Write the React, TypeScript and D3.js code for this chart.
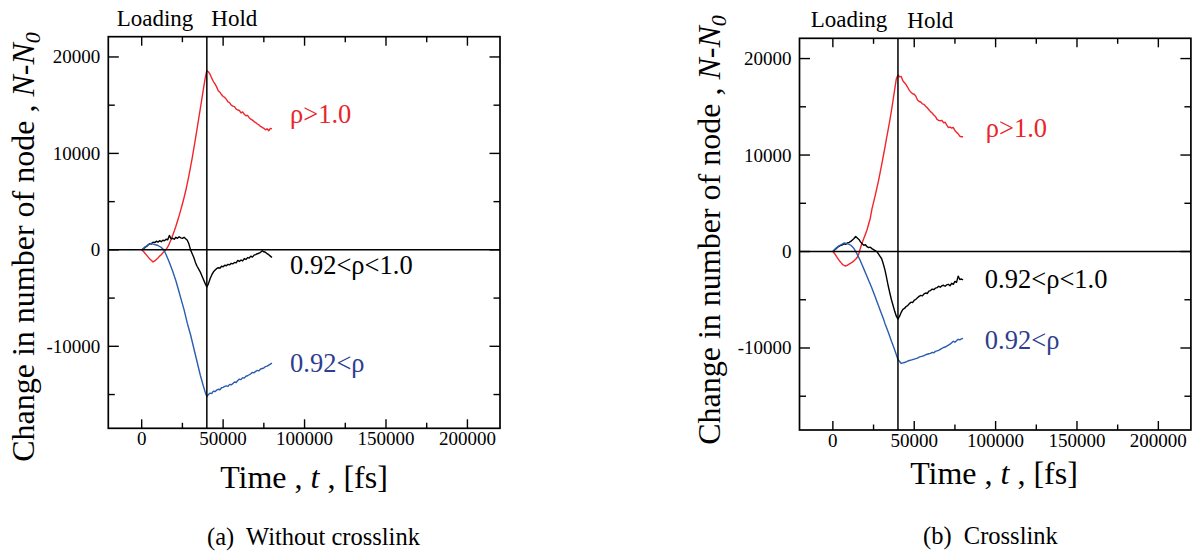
import React from 'react';
import * as d3 from 'd3';

// ---------- data ----------
const TIME_FS = [
  0, 1000, 2000, 3000, 4000, 5000, 6000, 7000, 8000, 9000,
  10000, 11000, 12000, 13000, 14000, 15000, 16000, 17000, 18000, 19000,
  20000, 21000, 22000, 23000, 24000, 25000, 26000, 27000, 28000, 29000,
  30000, 31000, 32000, 33000, 34000, 35000, 36000, 37000, 38000, 39000,
  40000, 41000, 42000, 43000, 44000, 45000, 46000, 47000, 48000, 49000,
  50000, 51000, 52000, 53000, 54000, 55000, 56000, 57000, 58000, 59000,
  60000, 61000, 62000, 63000, 64000, 65000, 66000, 67000, 68000, 69000,
  70000, 71000, 72000, 73000, 74000, 75000, 76000, 77000, 78000, 79000,
  80000,
];

// (a) Without crosslink
const A_RHO_GT_1 = [
  0, -150, -350, -550, -750, -950, -1100, -1250, -1150, -1000,
  -850, -650, -500, -300, -150, 50, 300, 650, 1050, 1500,
  1950, 2450, 3000, 3550, 4150, 4750, 5400, 6100, 6900, 7700,
  8600, 9500, 10500, 11500, 12550, 13600, 14650, 15700, 16800, 17800,
  18600, 18450, 18200, 17800, 17450, 17200, 16900, 16500, 16350, 16100,
  15900, 15800, 15600, 15350, 15250, 15000, 14900, 14850, 14600, 14500,
  14450, 14200, 14300, 14050, 13900, 13950, 13700, 13550, 13450, 13300,
  13200, 13050, 12950, 12800, 12700, 12600, 12450, 12550, 12350, 12600,
  12550,
];
const A_RHO_MID = [
  0, 100, 250, 350, 500, 650, 600, 800, 750, 900,
  800, 950, 850, 1000, 950, 1100, 1050, 1500, 1150, 1200,
  1100, 1300, 1200, 1350, 1250, 1200, 1300, 1150, 1000, 600,
  0, -400, -800, -1300, -1700, -2000, -2300, -2700, -3100, -3500,
  -3850, -3500, -3000, -2600, -2300, -2100, -1950, -1850, -1900, -1700,
  -1750, -1600, -1650, -1500, -1550, -1400, -1450, -1300, -1350, -1100,
  -1200, -1050, -1150, -900, -1000, -800, -850, -650, -750, -550,
  -500, -400, -350, -250, -100, -200, -250, -400, -500, -650,
  -800,
];
const A_RHO_LOW = [
  0, 150, 300, 400, 550, 600, 700, 600, 550, 500,
  450, 350, 250, 100, -150, -500, -900, -1300, -1750, -2200,
  -2700, -3200, -3800, -4400, -5000, -5600, -6200, -6900, -7600, -8200,
  -8800, -9500, -10200, -10900, -11600, -12300, -13000, -13600, -14200, -14750,
  -15200, -15000, -14850, -14900, -14650, -14700, -14550, -14450, -14500, -14300,
  -14250, -14150, -14100, -14150, -13950, -14000, -13850, -13700, -13750, -13550,
  -13400, -13450, -13250, -13300, -13100, -13050, -12950, -12850, -12700, -12750,
  -12600, -12500, -12550, -12350, -12300, -12250, -12100, -12050, -11950, -11850,
  -11750,
];

// (b) Crosslink
const B_RHO_GT_1 = [
  0, -200, -450, -700, -950, -1150, -1350, -1450, -1500, -1400,
  -1300, -1200, -1100, -950, -800, -600, -200, 400, 900, 1350,
  1800, 2250, 2850, 3450, 4400, 5100, 5800, 6550, 7300, 8150,
  9000, 9900, 10800, 11750, 12650, 13600, 14600, 15700, 16800, 17900,
  18300, 18100, 18150, 17700, 17500, 17300, 17000, 16700, 16500, 16350,
  16300, 16100, 15700, 15550, 15500, 15300, 15250, 15050, 14900, 14700,
  14500, 14350, 14150, 14000, 13700, 13600, 13550, 13600, 13350, 13400,
  13100, 12850, 12900, 12800, 12850, 12550, 12350, 12200, 11950, 11900,
  11900,
];
const B_RHO_MID = [
  0, 150, 300, 450, 550, 650, 700, 800, 750, 900,
  950, 1050, 1200, 1350, 1550, 1400, 1250, 1000, 800, 650,
  700, 500, 400, 450, 300, 200, 100, 0, -250, -500,
  -750, -1300, -1900, -2700, -3550, -4300, -5000, -5600, -6200, -6700,
  -7000, -6700, -6300, -6000, -5900, -5700, -5600, -5400, -5250, -5300,
  -5050, -4950, -4800, -4650, -4550, -4600, -4400, -4300, -4350, -4100,
  -4050, -3900, -3950, -3800, -3750, -3600, -3700, -3550, -3500, -3600,
  -3450, -3400, -3550, -3300, -3400, -3100, -3200, -2550, -2900, -2850,
  -2950,
];
const B_RHO_LOW = [
  0, 200, 350, 500, 600, 700, 800, 900, 850, 800,
  750, 650, 500, 300, 0, -300, -650, -1000, -1400, -1800,
  -2200, -2600, -3000, -3400, -3800, -4250, -4700, -5150, -5600, -6050,
  -6500, -6950, -7450, -7900, -8350, -8800, -9300, -9750, -10200, -10700,
  -11200, -11400, -11600, -11550, -11500, -11450, -11350, -11300, -11250, -11200,
  -11150, -11100, -11050, -10950, -10900, -10850, -10800, -10700, -10650, -10600,
  -10550, -10450, -10500, -10350, -10300, -10250, -10150, -10050, -9950, -9900,
  -9800, -9700, -9600, -9450, -9300, -9400, -9250, -9100, -9150, -9050,
  -9000,
];

const X_TICKS_MAJOR = [0, 50000, 100000, 150000, 200000];
const X_TICKS_MINOR = [25000, 75000, 125000, 175000];
const Y_TICKS_MAJOR = [-10000, 0, 10000, 20000];
const Y_TICKS_MINOR = [-15000, -5000, 5000, 15000];
const X_DOMAIN: [number, number] = [-20500, 220000];
const Y_DOMAIN: [number, number] = [-18500, 22100];
const HOLD_START = 40000;

const SERIES_NAMES = ['ρ>1.0', '0.92<ρ<1.0', '0.92<ρ'];
const LINE_COLORS = ['#f0262b', '#000000', '#2a5caf'];
const TEXT_COLORS = ['#e8262d', '#000000', '#2e3d8f'];

const FONT = 'Liberation Serif';

type PanelCfg = {
  left: number; top: number; width: number; height: number;
  series: number[][];
  labelPos: [number, number][]; // in data coords
  loadingDx: number; holdDx: number; loadingY: number; holdY: number;
  xTitle: [number, number];
  yTitle: [number, number];
  caption: string; captionPos: [number, number];
};

const PANELS: PanelCfg[] = [
  {
    left: 108.3, top: 36.7, width: 391.7, height: 391.6,
    series: [A_RHO_GT_1, A_RHO_MID, A_RHO_LOW],
    labelPos: [[91100, 13130], [91100, -2460], [91100, -12690]],
    loadingDx: -13.5, holdDx: 4.5, loadingY: 26, holdY: 26,
    xTitle: [304, 488], yTitle: [34, 247],
    caption: '(a)  Without crosslink', captionPos: [207, 545],
  },
  {
    left: 799.5, top: 38.3, width: 391.4, height: 391.7,
    series: [B_RHO_GT_1, B_RHO_MID, B_RHO_LOW],
    labelPos: [[94000, 11830], [93400, -3740], [93400, -10130]],
    loadingDx: -10.6, holdDx: 9.4, loadingY: 26.7, holdY: 28.3,
    xTitle: [994, 484], yTitle: [720, 230],
    caption: '(b)  Crosslink', captionPos: [923, 544],
  },
];

function Panel({ cfg }: { cfg: PanelCfg }) {
  const x = d3.scaleLinear().domain(X_DOMAIN).range([cfg.left, cfg.left + cfg.width]);
  const y = d3.scaleLinear().domain(Y_DOMAIN).range([cfg.top + cfg.height, cfg.top]);
  const L = cfg.left, R = cfg.left + cfg.width, T = cfg.top, B = cfg.top + cfg.height;
  const line = d3.line<number>().x((_, i) => x(TIME_FS[i])).y((d) => y(d));
  const vx = x(HOLD_START);
  const y0 = y(0);
  const MAJ = 9, MIN = 5.5, YMAJ = 10.5, YMIN = 6.5;
  return (
    <g>
      {cfg.series.map((s, i) => (
        <path key={i} d={line(s) || ''} fill="none" stroke={LINE_COLORS[i]} strokeWidth={1.4} strokeLinejoin="round" />
      ))}
      <line x1={L} x2={R} y1={y0} y2={y0} stroke="#000" strokeWidth={1.5} />
      <line x1={vx} x2={vx} y1={T} y2={B} stroke="#000" strokeWidth={1.5} />
      <rect x={L} y={T} width={cfg.width} height={cfg.height} fill="none" stroke="#000" strokeWidth={1.7} />
      {X_TICKS_MAJOR.map((t) => (
        <g key={'xm' + t}>
          <line x1={x(t)} x2={x(t)} y1={B} y2={B - MAJ} stroke="#000" strokeWidth={1.4} />
          <line x1={x(t)} x2={x(t)} y1={T} y2={T + MAJ} stroke="#000" strokeWidth={1.4} />
          <text x={x(t)} y={B + 17} textAnchor="middle" fontSize={19} fontFamily={FONT} fill="#000">{t}</text>
        </g>
      ))}
      {X_TICKS_MINOR.map((t) => (
        <g key={'xn' + t}>
          <line x1={x(t)} x2={x(t)} y1={B} y2={B - MIN} stroke="#000" strokeWidth={1.4} />
          <line x1={x(t)} x2={x(t)} y1={T} y2={T + MIN} stroke="#000" strokeWidth={1.4} />
        </g>
      ))}
      {Y_TICKS_MAJOR.map((v) => (
        <g key={'ym' + v}>
          <line x1={L} x2={L + YMAJ} y1={y(v)} y2={y(v)} stroke="#000" strokeWidth={1.4} />
          <line x1={R} x2={R - YMAJ} y1={y(v)} y2={y(v)} stroke="#000" strokeWidth={1.4} />
          <text x={L - 8} y={y(v) + 6.5} textAnchor="end" fontSize={19} fontFamily={FONT} fill="#000">{v}</text>
        </g>
      ))}
      {Y_TICKS_MINOR.map((v) => (
        <g key={'yn' + v}>
          <line x1={L} x2={L + YMIN} y1={y(v)} y2={y(v)} stroke="#000" strokeWidth={1.4} />
          <line x1={R} x2={R - YMIN} y1={y(v)} y2={y(v)} stroke="#000" strokeWidth={1.4} />
        </g>
      ))}
      <text x={vx + cfg.loadingDx} y={cfg.loadingY} textAnchor="end" fontSize={23} fontFamily={FONT} fill="#000">Loading</text>
      <text x={vx + cfg.holdDx} y={cfg.holdY} textAnchor="start" fontSize={23} fontFamily={FONT} fill="#000">Hold</text>
      {SERIES_NAMES.map((n, i) => (
        <text key={n} x={x(cfg.labelPos[i][0])} y={y(cfg.labelPos[i][1])} fontSize={26.5} fontFamily={FONT} fill={TEXT_COLORS[i]}>{n}</text>
      ))}
      <text x={cfg.xTitle[0]} y={cfg.xTitle[1]} textAnchor="middle" fontSize={32} fontFamily={FONT} fill="#000" style={{ whiteSpace: 'pre' }}>
        {'Time , '}<tspan fontStyle="italic">t</tspan>{' , [fs]'}
      </text>
      <text transform={`translate(${cfg.yTitle[0]},${cfg.yTitle[1]}) rotate(-90)`} textAnchor="middle" fontSize={32} fontFamily={FONT} fill="#000" style={{ whiteSpace: 'pre' }}>
        {'Change in number of node , '}<tspan fontStyle="italic">N</tspan>{'-'}<tspan fontStyle="italic">N</tspan>
        <tspan fontStyle="italic" fontSize={22} dy={6}>0</tspan>
      </text>
      <text x={cfg.captionPos[0]} y={cfg.captionPos[1]} fontSize={24.5} fontFamily={FONT} fill="#000" style={{ whiteSpace: 'pre' }}>{cfg.caption}</text>
    </g>
  );
}

export default function App() {
  return (
    <svg width={1199} height={556} viewBox="0 0 1199 556" style={{ position: 'absolute', left: 0, top: 0, background: '#fff' }}>
      <rect x={0} y={0} width={1199} height={556} fill="#fff" />
      {PANELS.map((p, i) => <Panel key={i} cfg={p} />)}
    </svg>
  );
}
